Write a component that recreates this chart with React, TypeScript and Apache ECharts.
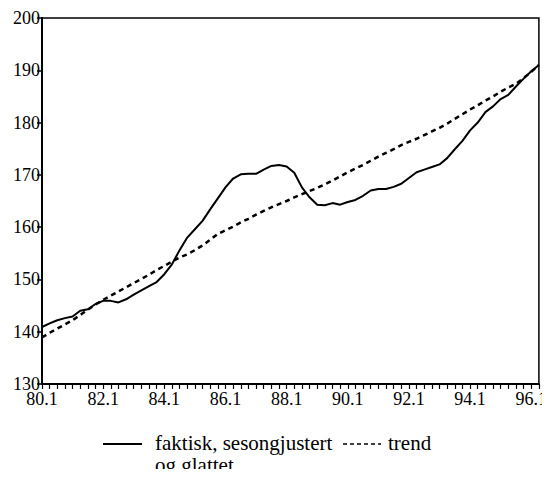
import React, { useEffect, useRef } from "react";
import * as echarts from "echarts";

// Quarters 80.1 .. 96.2
const years = [80, 81, 82, 83, 84, 85, 86, 87, 88, 89, 90, 91, 92, 93, 94, 95, 96];
const categories: string[] = [];
years.forEach((y) => {
  [1, 2, 3, 4].forEach((q) => {
    if (y === 96 && q > 2) return;
    categories.push(`${y}.${q}`);
  });
});

const actual = [
  140.9, 141.6, 142.2, 142.6, 142.9, 144.0, 144.3, 145.3, 145.9, 145.9,
  145.6, 146.2, 147.1, 147.9, 148.7, 149.5, 151.0, 152.9, 155.6, 158.0,
  159.6, 161.2, 163.4, 165.5, 167.6, 169.3, 170.1, 170.2, 170.2, 171.0,
  171.7, 171.9, 171.6, 170.4, 167.6, 165.7, 164.3, 164.2, 164.6, 164.3,
  164.8, 165.2, 166.0, 167.0, 167.3, 167.3, 167.7, 168.3, 169.4, 170.5,
  171.0, 171.5, 172.0, 173.2, 174.9, 176.5, 178.5, 180.0, 182.0, 183.1,
  184.5, 185.3, 186.9, 188.4, 189.8, 191.0,
];

const trend = [
  138.9, 139.8, 140.6, 141.4, 142.2, 143.2, 144.2, 145.2, 146.1, 146.9,
  147.7, 148.5, 149.3, 150.1, 150.9, 151.8, 152.6, 153.4, 154.2, 154.8,
  155.6, 156.5, 157.6, 158.7, 159.4, 160.1, 160.9, 161.6, 162.4, 163.1,
  163.8, 164.4, 165.0, 165.7, 166.3, 166.9, 167.5, 168.2, 168.9, 169.7,
  170.5, 171.2, 171.9, 172.7, 173.5, 174.2, 174.9, 175.7, 176.3, 176.9,
  177.6, 178.3, 179.0, 179.8, 180.7, 181.6, 182.5, 183.3, 184.2, 185.0,
  185.9, 186.7, 187.4, 188.5, 189.7, 191.0,
];

const legendActual = "faktisk, sesongjustert";
const legendActual2 = "og glattet";
const legendTrend = "trend";

const FONT = "Liberation Serif";

export default function App() {
  const ref = useRef<HTMLDivElement>(null);
  useEffect(() => {
    if (!ref.current) return;
    const chart = echarts.init(ref.current, undefined, { renderer: "svg" });
    chart.setOption({
      animation: false,
      backgroundColor: "#fff",
      textStyle: { fontFamily: FONT },
      grid: {
        left: 42,
        right: 8,
        top: 18,
        bottom: 93,
        show: true,
        borderColor: "#000",
        borderWidth: 1.5,
      },
      xAxis: {
        type: "category",
        data: categories,
        boundaryGap: false,
        axisLine: { lineStyle: { color: "#000", width: 2 } },
        axisTick: { interval: 0, length: 5, lineStyle: { color: "#000", width: 1.2 } },
        axisLabel: {
          interval: 7,
          margin: 6,
          color: "#000",
          fontFamily: FONT,
          fontSize: 18,
        },
        splitLine: { show: false },
      },
      yAxis: {
        type: "value",
        min: 130,
        max: 200,
        interval: 10,
        axisLine: { show: true, lineStyle: { color: "#000", width: 2 } },
        axisTick: { show: true, length: 5, lineStyle: { color: "#000", width: 1.5 } },
        axisLabel: {
          margin: 2,
          color: "#000",
          fontFamily: FONT,
          fontSize: 18,
        },
        splitLine: { show: false },
      },
      series: [
        {
          name: legendActual,
          type: "line",
          data: actual,
          showSymbol: false,
          lineStyle: { color: "#000", width: 2 },
        },
        {
          name: legendTrend,
          type: "line",
          data: trend,
          showSymbol: false,
          lineStyle: { color: "#000", width: 2.5, type: [5, 4] },
        },
      ],
      graphic: [
        {
          type: "line",
          shape: { x1: 103, y1: 444, x2: 142, y2: 444 },
          style: { stroke: "#000", lineWidth: 2 },
        },
        {
          type: "text",
          x: 155,
          y: 443,
          style: {
            text: legendActual,
            fontFamily: FONT,
            fontSize: 21,
            fill: "#000",
            verticalAlign: "middle",
          },
        },
        {
          type: "text",
          x: 155,
          y: 465,
          style: {
            text: legendActual2,
            fontFamily: FONT,
            fontSize: 21,
            fill: "#000",
            verticalAlign: "middle",
          },
        },
        {
          type: "line",
          shape: { x1: 343, y1: 444, x2: 381, y2: 444 },
          style: { stroke: "#000", lineWidth: 1.5, lineDash: [4, 3] },
        },
        {
          type: "text",
          x: 388,
          y: 443,
          style: {
            text: legendTrend,
            fontFamily: FONT,
            fontSize: 21,
            fill: "#000",
            verticalAlign: "middle",
          },
        },
      ],
    });
    return () => chart.dispose();
  }, []);
  return <div ref={ref} style={{ width: 550, height: 477, margin: -8 }} />;
}
